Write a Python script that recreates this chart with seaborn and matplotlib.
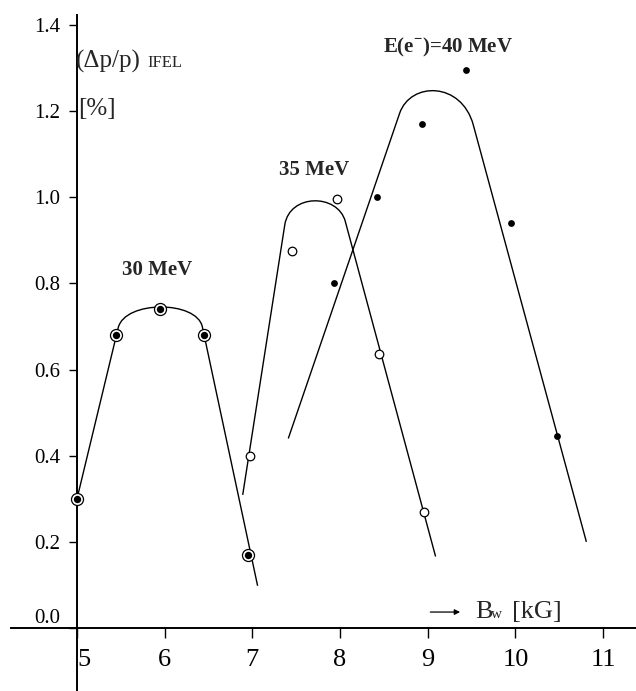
import numpy as np
import pandas as pd
import matplotlib
matplotlib.use("Agg")
import matplotlib.pyplot as plt
import seaborn as sns
from matplotlib.path import Path
from matplotlib.patches import PathPatch

# ---- measured data ----
bw_30 = [5.00, 5.45, 5.95, 6.45, 6.95]
dp_30 = [0.30, 0.68, 0.74, 0.68, 0.17]
bw_35 = [6.97, 7.45, 7.96, 8.44, 8.96]
dp_35 = [0.40, 0.875, 0.995, 0.635, 0.27]
bw_40 = [7.93, 8.42, 8.93, 9.44, 9.95, 10.47]
dp_40 = [0.80, 1.00, 1.17, 1.295, 0.94, 0.445]

# ---- fitted guide curves: start, arc start, 2 bezier controls, arc end, end ----
fit30_x = [5.00, 5.47, 5.546, 6.365, 6.43, 7.06]
fit30_y = [0.30, 0.697, 0.761, 0.761, 0.699, 0.098]
fit35_x = [6.89, 7.37, 7.426, 7.974, 8.06, 9.09]
fit35_y = [0.309, 0.936, 1.009, 1.009, 0.944, 0.166]
fit40_x = [7.41, 8.68, 8.805, 9.385, 9.52, 10.81]
fit40_y = [0.44, 1.195, 1.269, 1.269, 1.168, 0.20]

x_ticks = [5, 6, 7, 8, 9, 10, 11]
x_tick_labels = ["5", "6", "7", "8", "9", "10", "11"]
y_ticks = [0.0, 0.2, 0.4, 0.6, 0.8, 1.0, 1.2, 1.4]
y_tick_labels = ["0.0", "0.2", "0.4", "0.6", "0.8", "1.0", "1.2", "1.4"]

sns.set_style("white")
plt.rcParams["font.family"] = ["Liberation Serif", "DejaVu Serif"]
plt.rcParams["mathtext.fontset"] = "custom"
plt.rcParams["mathtext.rm"] = "Liberation Serif"
plt.rcParams["mathtext.bf"] = "Liberation Serif:bold"

fig = plt.figure(figsize=(6.36, 6.91), dpi=100)
ax = fig.add_axes([0, 0, 1, 1])
ax.set_xlim(4.1217, 11.376)
ax.set_ylim(-0.1463, 1.458)

# fitted curves
codes = [Path.MOVETO, Path.LINETO, Path.CURVE4, Path.CURVE4, Path.CURVE4, Path.LINETO]
for fx, fy in [(fit30_x, fit30_y), (fit35_x, fit35_y), (fit40_x, fit40_y)]:
    p = Path(np.column_stack([fx, fy]), codes)
    ax.add_patch(PathPatch(p, facecolor="none", edgecolor="black", lw=1.0, zorder=2))

df30 = pd.DataFrame({"bw": bw_30, "dp": dp_30})
df35 = pd.DataFrame({"bw": bw_35, "dp": dp_35})
df40 = pd.DataFrame({"bw": bw_40, "dp": dp_40})

sns.scatterplot(data=df30, x="bw", y="dp", ax=ax, s=75, marker="o",
                facecolor="white", edgecolor="black", linewidth=0.9, zorder=3)
sns.scatterplot(data=df30, x="bw", y="dp", ax=ax, s=28, marker="o",
                color="black", edgecolor="black", linewidth=0, zorder=4)
sns.scatterplot(data=df35, x="bw", y="dp", ax=ax, s=38, marker="o",
                facecolor="white", edgecolor="black", linewidth=0.9, zorder=3)
sns.scatterplot(data=df40, x="bw", y="dp", ax=ax, s=24, marker="o",
                color="black", edgecolor="black", linewidth=0, zorder=3)

# axes styling: crossing axes at (5, 0)
for side in ["top", "right"]:
    ax.spines[side].set_visible(False)
ax.spines["left"].set_position(("data", 5))
ax.spines["bottom"].set_position(("data", 0))
ax.spines["left"].set_bounds(-0.1463, 1.423)
ax.spines["bottom"].set_bounds(4.247, 11.376)
for side in ["left", "bottom"]:
    ax.spines[side].set_linewidth(1.4)
    ax.spines[side].set_color("black")

ax.set_xticks(x_ticks)
ax.set_xticklabels(x_tick_labels)
ax.set_yticks(y_ticks)
ax.set_yticklabels(y_tick_labels)
ax.tick_params(axis="x", direction="out", length=7, width=1.0, pad=8,
               labelsize=19, colors="black", bottom=True)
ax.tick_params(axis="y", direction="out", length=6, width=1.0, pad=6,
               labelsize=15, colors="black", left=True)
ax.get_yticklabels()[0].set_va("bottom")
ax.get_xticklabels()[0].set_ha("left")
ax.set_xlabel("")
ax.set_ylabel("")
ax.grid(False)

# annotations
ax.text(4.985, 1.302, "(\u0394p/p)", fontsize=18, va="baseline", ha="left")
ax.text(5.80, 1.302, "IFEL", fontsize=12, va="baseline", ha="left")
ax.text(5.01, 1.191, "[%]", fontsize=18, va="baseline", ha="left")
ax.text(5.513, 0.820, "30 MeV", fontsize=15, fontweight="bold", va="baseline", ha="left")
ax.text(7.304, 1.052, "35 MeV", fontsize=15, fontweight="bold", va="baseline", ha="left")
ax.text(8.49, 1.335, r"E(e$^{\mathbf{-}}$)=40 MeV", fontsize=15, fontweight="bold",
        va="baseline", ha="left")
ax.annotate("", xy=(9.37, 0.037), xytext=(9.03, 0.037),
            arrowprops=dict(arrowstyle="-|>", lw=0.9, color="black",
                            mutation_scale=8, shrinkA=0, shrinkB=0))
ax.text(9.54, 0.023, "B", fontsize=19, va="baseline", ha="left")
ax.text(9.722, 0.023, "w", fontsize=11, va="baseline", ha="left")
ax.text(9.962, 0.023, "[kG]", fontsize=19, va="baseline", ha="left")

fig.savefig("out.png", dpi=100, facecolor="white")
